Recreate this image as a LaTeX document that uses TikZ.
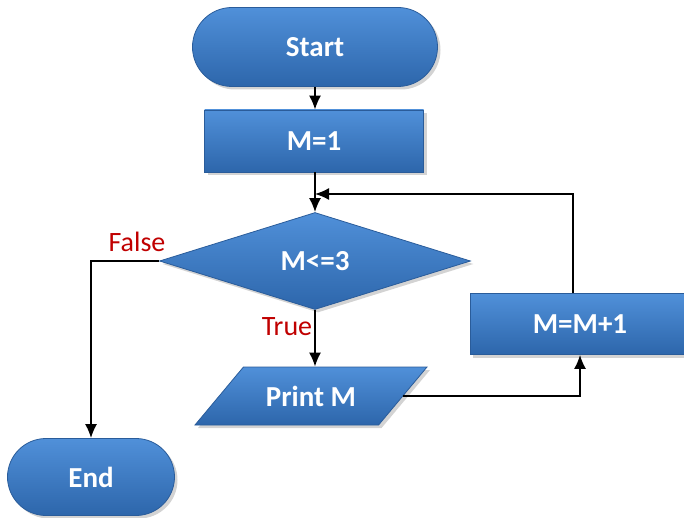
\documentclass[tikz,border=0pt]{standalone}
\usepackage{fontspec}
\setmainfont{Carlito}
\usepackage{tikz}
\usepackage{xcolor}
\usetikzlibrary{shapes.geometric,shapes.misc,shadows,arrows.meta}

\definecolor{boxtop}{HTML}{5090D9}
\definecolor{boxbot}{HTML}{2D66AB}
\definecolor{boxedge}{HTML}{2A5C9A}
\definecolor{labelred}{HTML}{C00000}

\tikzset{
    flow/.style={draw=boxedge, line width=0.4pt, top color=boxtop, bottom color=boxbot,
        drop shadow={opacity=0.35, shadow xshift=1.5pt, shadow yshift=-1.5pt},
        text=white, font=\fontsize{14.5}{17}\selectfont\bfseries, inner sep=0pt},
    terminal/.style={flow, rounded rectangle},
    process/.style={flow, rectangle},
    decision/.style={flow, diamond},
    io/.style={flow, trapezium, trapezium left angle=23, trapezium right angle=157,
        trapezium stretches body},
    branch/.style={text=labelred, font=\fontsize{14}{16}\selectfont},
    line/.style={line width=0.8pt, -{Latex[length=7pt,width=6pt]}}
}

\begin{document}
\begin{tikzpicture}[x=0.5pt, y=-0.5pt]
        \useasboundingbox (0,0) rectangle (684,518);
        \node[terminal, minimum width=122.5pt, minimum height=39.5pt] (start) at (315,47) {Start};
        \node[process, minimum width=109.5pt, minimum height=31pt] (m1) at (314,141) {M=1};
        \node[decision, minimum width=155.5pt, minimum height=48.5pt] (test) at (315,261) {M<=3};
        \node[io, minimum width=116pt, minimum height=29pt] (print) at (311,396) {Print M};
        \node[process, minimum width=110pt, minimum height=30.5pt] (inc) at (580,324) {M=M+1};
        \node[terminal, minimum width=83.5pt, minimum height=38.5pt] (end) at (91,477) {End};
        \node[branch] (false) at (137,242) {False};
        \node[branch] (true) at (287,327) {True};
        \coordinate (join) at (315,194);
        \draw[line] (start.south) -- (start.south |- m1.north);
        \draw[line] (m1.south -| test.north) -- (test.north);
        \draw[line] ([xshift=-3.5pt]inc.north) |- (join);
        \draw[line] (test.west) -| (end.north);
        \draw[line] (test.south) -- (test.south |- print.north);
        \draw[line] (print.east) -| (inc.south);
    \end{tikzpicture}
\end{document}
